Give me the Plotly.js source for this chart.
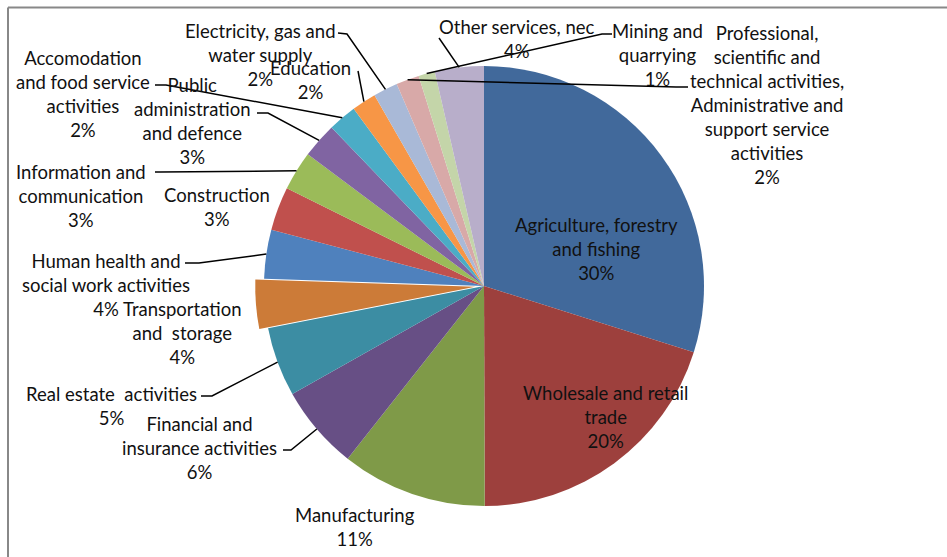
<!DOCTYPE html>
<html>
<head>
<meta charset="utf-8">
<script src="https://cdn.plot.ly/plotly-3.0.1.min.js"></script>
<style>html,body{margin:0;padding:0;background:#fff;}#chart{width:947px;height:557px;}</style>
</head>
<body>
<div id="chart"></div>
<script>
// ---- data ----
const categories = [
  "Agriculture, forestry and fishing",
  "Wholesale and retail trade",
  "Manufacturing",
  "Financial and insurance activities",
  "Real estate activities",
  "Transportation and storage",
  "Human health and social work activities",
  "Construction",
  "Information and communication",
  "Public administration and defence",
  "Accomodation and food service activities",
  "Education",
  "Electricity, gas and water supply",
  "Professional, scientific and technical activities, Administrative and support service activities",
  "Mining and quarrying",
  "Other services, nec"
];
const values = [29.9, 20.1, 10.7, 6.2, 5.1, 3.6, 3.6, 3.2, 2.9, 2.6, 2.1, 1.8, 1.8, 1.7, 1.2, 3.6];
const labelText = [
  "Agriculture, forestry<br>and fishing",
  "Wholesale and retail<br>trade",
  "Manufacturing",
  "Financial and<br>insurance activities",
  "Real estate  activities",
  "Transportation<br>and  storage",
  "Human health and<br>social work activities",
  "Construction",
  "Information and<br>communication",
  "Public<br>administration<br>and defence",
  "Accomodation<br>and food service<br>activities",
  "Education",
  "Electricity, gas and<br>water supply",
  "Professional,<br>scientific and<br>technical activities,<br>Administrative and<br>support service<br>activities",
  "Mining and<br>quarrying",
  "Other services, nec"
];

// ---- styles / layout ----
const colors = ["#41699B","#9D403D","#7F9A48","#674F85","#3C8DA3","#CC7B38",
                "#4F81BD","#C0504D","#9BBB59","#8064A2","#4BACC6","#F79646",
                "#A9B9D7","#D8A9A8","#C4D5A9","#B8AECA"];
const pulls = [0,0,0,0,0,0.04,0,0,0,0,0,0,0,0,0,0];
const W = 947, H = 557;
const CX = 484, CY = 286, R = 220;
// label centres (px) and leader lines: start point near text, optional elbow
const labelPos = [
  {x:596, y:249}, {x:605, y:417}, {x:355, y:527}, {x:199, y:448},
  {x:111, y:406}, {x:182, y:333}, {x:106, y:285}, {x:217, y:207},
  {x:81, y:196},  {x:192, y:121}, {x:83, y:94},   {x:310, y:80},
  {x:260, y:55},  {x:767, y:105}, {x:657, y:55},  {x:517, y:39}
];
const leaders = [
  null, null, null,
  {s:[283,450], e:[291,450]},
  {s:[201,396], e:[212,396]},
  null,
  {s:[185,263], e:[199,263]},
  null,
  {s:[155,172], e:[160,172]},
  {s:[257,113], e:[268,113]},
  {s:[155,85],  e:[166,85]},
  {s:[358,71],  e:null},
  {s:[338,33],  e:[347,34]},
  {s:[688,87],  e:[676,87]},
  {s:[612,34],  e:[602,34]},
  {s:[439,38],  e:null}
];

const total = values.reduce((a,b)=>a+b,0);
const maxPull = Math.max(...pulls);
const half = R*(1+maxPull);

const px = x => x/W, py = y => 1 - y/H;

const annotations = [];
const shapes = [];
let cum = 0;
values.forEach((v,i)=>{
  const pct = Math.round(v/total*100);
  const mid = (cum + v/2)/total*2*Math.PI;
  cum += v;
  const lp = labelPos[i];
  annotations.push({
    xref:'paper', yref:'paper', x:px(lp.x), y:py(lp.y),
    xanchor:'center', yanchor:'middle', align:'center', showarrow:false,
    text: labelText[i] + "<br>" + pct + "%",
    font:{family:'Lato, "Open Sans", sans-serif', size:18.5, color:'#111'}
  });
  const L = leaders[i];
  if (L) {
    const ex = CX + R*Math.sin(mid), ey = CY - R*Math.cos(mid);
    let path = `M ${px(L.s[0])},${py(L.s[1])}`;
    if (L.e) path += ` L ${px(L.e[0])},${py(L.e[1])}`;
    path += ` L ${px(ex)},${py(ey)}`;
    shapes.push({type:'path', xref:'paper', yref:'paper', path, line:{color:'#000', width:1.5}});
  }
});
// chart frame (top + left)
shapes.push({type:'line', xref:'paper', yref:'paper', x0:px(8), x1:1, y0:py(7.5), y1:py(7.5), line:{color:'#888', width:2}});
shapes.push({type:'line', xref:'paper', yref:'paper', x0:px(8), x1:px(8), y0:py(7.5), y1:0, line:{color:'#888', width:2}});

const trace = {
  type:'pie', labels:categories, values:values, sort:false, direction:'clockwise', rotation:0,
  pull:pulls, textinfo:'none', hoverinfo:'label+percent',
  marker:{colors:colors, line:{width:0}},
  domain:{x:[px(CX-half), px(CX+half)], y:[py(CY+half), py(CY-half)]},
  showlegend:false
};
const layout = {
  width:W, height:H, margin:{l:0,r:0,t:0,b:0},
  paper_bgcolor:'#fff', plot_bgcolor:'#fff', showlegend:false,
  annotations, shapes
};
Plotly.newPlot('chart', [trace], layout, {displayModeBar:false, staticPlot:true});
</script>
</body>
</html>
